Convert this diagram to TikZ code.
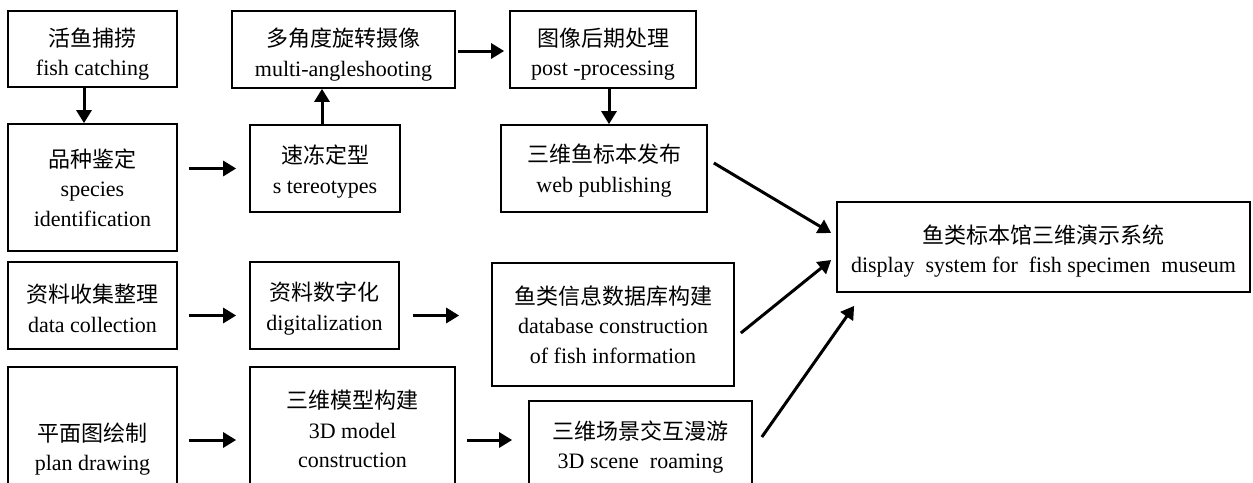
\documentclass[tikz,border=0pt]{standalone}
\usepackage{fontspec}
\setmainfont{Liberation Serif}
\newfontfamily\cjk{Noto Sans CJK SC}
\usetikzlibrary{arrows.meta}
% invisible strut that pushes a box's text down a little
\newcommand{\topgap}[1]{\rule{0pt}{#1pt}}

\begin{document}
\begin{tikzpicture}[x=1pt,y=-1pt,
				box/.style={draw,line width=1.7pt,inner sep=0pt,align=center,font=\fontsize{22}{29.5}\selectfont},
				arr/.style={line width=3pt,-{Triangle[length=13pt,width=15pt]}}]
				\useasboundingbox (0,0) rectangle (1253,482);
				\clip (0,0) rectangle (1253,482);
				% first column
				\node[box,minimum width=169pt,minimum height=76pt] (catch) at (92.5,49) {{\cjk\topgap{29}活鱼捕捞}\\fish catching};
				\node[box,minimum width=169pt,minimum height=127pt] (species) at (92.5,187.5) {{\cjk 品种鉴定}\\species\\identification};
				\node[box,minimum width=169pt,minimum height=87pt] (collect) at (92.5,305.5) {{\cjk\topgap{24}资料收集整理}\\data collection};
				\node[box,minimum width=169pt,minimum height=164pt] (plan) at (92.5,449) {{\cjk 平面图绘制}\\plan drawing};
				% second column
				\node[box,minimum width=223pt,minimum height=77pt] (shoot) at (343.5,49.5) {{\cjk\topgap{29}多角度旋转摄像}\\multi-angleshooting};
				\node[box,minimum width=150pt,minimum height=87pt] (freeze) at (325,168.5) {{\cjk\topgap{24.5}速冻定型}\\s tereotypes};
				\node[box,minimum width=149pt,minimum height=87pt] (digital) at (324.5,305.5) {{\cjk\topgap{25}资料数字化}\\digitalization};
				\node[box,minimum width=205pt,minimum height=124pt] (model) at (352.5,429) {{\cjk 三维模型构建}\\3D model\\construction};
				% third column
				\node[box,minimum width=186pt,minimum height=77pt] (post) at (603,49.5) {{\cjk\topgap{27.5}图像后期处理}\\post -processing};
				\node[box,minimum width=206pt,minimum height=87pt] (web) at (604,168.5) {{\cjk\topgap{23}三维鱼标本发布}\\web publishing};
				\node[box,minimum width=242pt,minimum height=123pt] (db) at (613,324.5) {{\cjk 鱼类信息数据库构建}\\database construction\\of fish information};
				\node[box,minimum width=223pt,minimum height=92pt] (roam) at (640.5,447) {{\cjk 三维场景交互漫游}\\3D scene\ \ roaming};
				% result
				\node[box,minimum width=413pt,minimum height=90pt] (disp) at (1043.5,247) {{\cjk\topgap{26.5}鱼类标本馆三维演示系统}\\display\ \ system for\ \ fish specimen\ \ museum};
				% arrows
				\draw[arr] ([xshift=-8.5pt]catch.south) -- ([xshift=-8.5pt]catch.south |- species.north);
				\draw[arr,shorten <=11pt,shorten >=13pt] (species.east |- freeze.west) -- (freeze.west);
				\draw[arr] ([xshift=-3pt]freeze.north) -- ([xshift=-3pt]freeze.north |- shoot.south);
				\draw[arr,shorten <=2pt,shorten >=5pt] ([yshift=-1.5pt]shoot.east) -- ([yshift=-1.5pt]shoot.east -| post.west);
				\draw[arr] ([xshift=6pt]post.south) -- ([xshift=6pt]post.south |- web.north);
				\draw[arr,shorten <=11pt,shorten >=13pt] ([yshift=-10pt]collect.east) -- ([yshift=-10pt]digital.west);
				\draw[arr,shorten <=13pt,shorten >=32pt] ([yshift=-10pt]digital.east) -- ([yshift=-10pt]digital.east -| db.west);
				\draw[arr,shorten <=11pt,shorten >=13pt] ([yshift=9pt]plan.east) -- ([yshift=9pt]plan.east -| model.west);
				\draw[arr,shorten <=11pt,shorten >=16pt] ([yshift=7pt]roam.west -| model.east) -- ([yshift=7pt]roam.west);
				\draw[arr] ([xshift=6pt,yshift=5.5pt]web.east) -- ([xshift=-5pt,yshift=14pt]disp.west);
				\draw[arr] ([xshift=6pt,yshift=-8.5pt]db.east) -- ([xshift=-5pt,yshift=-13pt]disp.west);
				\draw[arr] ([xshift=9pt,yshift=10pt]roam.east) -- ([xshift=18pt,yshift=-13pt]disp.south west);
			\end{tikzpicture}
\end{document}
